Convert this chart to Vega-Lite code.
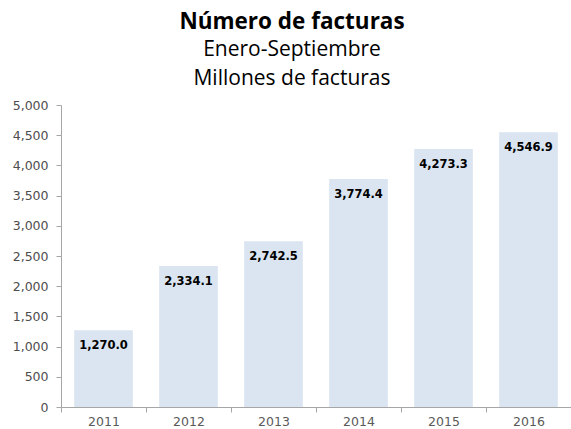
{
  "$schema": "https://vega.github.io/schema/vega-lite/v6.json",
  "autosize": "none",
  "width": 510,
  "height": 302,
  "padding": {"left": 61, "top": 105, "right": 0, "bottom": 22},
  "background": "white",
  "title": {
    "text": "Número de facturas",
    "subtitle": ["Enero-Septiembre", "Millones de facturas"],
    "anchor": "middle",
    "dx": -24,
    "font": "Open Sans",
    "fontSize": 22.5,
    "fontWeight": "bold",
    "color": "#000000",
    "subtitleFont": "Open Sans",
    "subtitleFontSize": 21,
    "subtitleColor": "#000000",
    "subtitleLineHeight": 29,
    "subtitlePadding": 6,
    "offset": 10
  },
  "data": {
    "values": [
      {"year": "2011", "value": 1270.0},
      {"year": "2012", "value": 2334.1},
      {"year": "2013", "value": 2742.5},
      {"year": "2014", "value": 3774.4},
      {"year": "2015", "value": 4273.3},
      {"year": "2016", "value": 4546.9}
    ]
  },
  "encoding": {
    "x": {
      "field": "year",
      "type": "nominal",
      "sort": null,
      "scale": {"paddingInner": 0, "paddingOuter": 0},
      "axis": {
        "title": null,
        "labelAngle": 0,
        "tickBand": "extent",
        "domainColor": "#a6a6a6",
        "tickColor": "#a6a6a6",
        "tickSize": 5,
        "labelFont": "DejaVu Sans",
        "labelFontSize": 12.5,
        "labelColor": "#595959",
        "labelPadding": 3
      }
    },
    "y": {
      "field": "value",
      "type": "quantitative",
      "scale": {"domain": [0, 5000]},
      "axis": {
        "title": null,
        "values": [0, 500, 1000, 1500, 2000, 2500, 3000, 3500, 4000, 4500, 5000],
        "format": ",.0f",
        "grid": false,
        "domainColor": "#a6a6a6",
        "tickColor": "#a6a6a6",
        "tickSize": 5,
        "labelFont": "DejaVu Sans",
        "labelFontSize": 12.5,
        "labelColor": "#4d4d4d",
        "labelPadding": 8
      }
    }
  },
  "layer": [
    {"mark": {"type": "bar", "color": "#dbe5f1", "width": {"band": 0.69}}},
    {
      "mark": {"type": "text", "baseline": "middle", "dy": 16, "font": "DejaVu Sans", "fontSize": 11.5, "fontWeight": "bold", "color": "#000000"},
      "encoding": {"text": {"field": "value", "type": "quantitative", "format": ",.1f"}}
    }
  ],
  "config": {"view": {"stroke": null}}
}
